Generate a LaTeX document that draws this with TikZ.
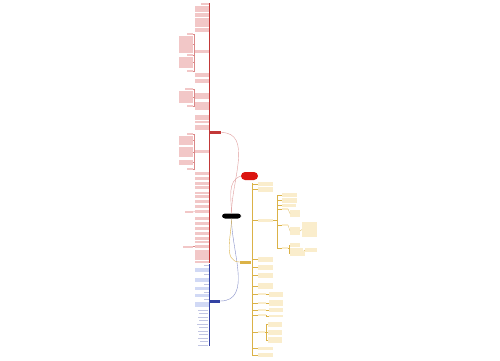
\documentclass[tikz,border=0pt]{standalone}
\usepackage{xcolor}
\usetikzlibrary{positioning}
\definecolor{RedLine}{rgb}{0.76 0.22 0.22}
\definecolor{RedFill}{rgb}{0.95 0.78 0.78}
\definecolor{RedHead}{rgb}{0.86 0.08 0.06}
\definecolor{BlueLine}{rgb}{0.2 0.26 0.64}
\definecolor{BlueFill}{rgb}{0.82 0.85 0.96}
\definecolor{YellowLine}{rgb}{0.86 0.7 0.28}
\definecolor{YellowFill}{rgb}{0.98 0.93 0.8}
\tikzset{
    rblk/.style={fill=RedFill,inner sep=0,outer sep=0,anchor=north east},
    bblk/.style={fill=BlueFill,inner sep=0,outer sep=0,anchor=north east},
    bline/.style={fill=BlueLine!30,inner sep=0,outer sep=0,anchor=north east},
    yblk/.style={fill=YellowFill,inner sep=0,outer sep=0,anchor=north west},
    rlink/.style={draw=RedLine!60,line width=0.3pt},
    ylink/.style={draw=YellowLine,line width=0.3pt}
}

\begin{document}
\begin{tikzpicture}[x=1pt,y=-1pt]
\tikzset{
    hub/.style={fill=black,rounded corners=3pt,minimum width=19pt,minimum height=5pt,inner sep=0},
    branch/.style={minimum width=11pt,minimum height=3pt,inner sep=0}
}
  \useasboundingbox[fill=white] (0,0) rectangle (500,360);

  % main nodes
  \node[hub] (centre) at (231.5,216) {};
  \node[fill=RedHead,rounded corners=4pt,minimum width=17pt,minimum height=8pt,inner sep=0] (top) at (249.5,176) {};
  \node[branch,fill=RedLine] (red) at (215.5,132.5) {};
  \node[branch,fill=BlueLine] (blue) at (214.5,301) {};
  \node[branch,fill=YellowLine] (yellow) at (245.5,262) {};

  \draw[RedLine!50,line width=0.4pt] (centre.north) to[out=90,in=200] (top.west);
  \draw[RedLine!50,line width=0.4pt] (centre.north) to[out=90,in=0] (red.east);
  \draw[BlueLine!60,line width=0.4pt] (centre.south) to[out=-90,in=0] (blue.east);
  \draw[YellowLine,line width=0.4pt] (centre.south) to[out=-90,in=180] (yellow.west);

  % trunks
  \coordinate (rtop) at (209,3);
  \coordinate (rbot) at (209,263);
  \coordinate (btop) at (209.5,264);
  \coordinate (bbot) at (209.5,346);
  \coordinate (ytop) at (252,183);
  \coordinate (ybot) at (252,355);
  \draw[RedLine,line width=1pt] (rtop) -- (rbot);
  \draw[BlueLine,line width=0.8pt] (btop) -- (bbot);
  \draw[YellowLine,line width=0.6pt] (ytop) -- (ybot);

  % red side
  \foreach \ya/\yb/\w [count=\i] in {3/5/8,6/12/14,13/17/14,18/27/14,27.5/32/14,50/53/14,
      73/77/14,79/83/14,93/99/14,102/110/14,115/120/14,120.5/123/14,125/130/14,150/153/14,
      172/175/14,177/180/14,182/185/14,186/189/14,192/194/14,195/198/14,200/203/14,
      205/208/14,210/213/14,217/220/14,222/225/14,227/230/14,232/235/14,237/240/14,
      240.5/243/14,245/248/14,250/260/14,261/263/14}
    \node[rblk,minimum width=\w,minimum height={(\yb-\ya)*1pt}] (r\i) at (208.5,\ya) {};

  \foreach \ya/\yb/\w [count=\i] in {33/35/6,36/53/14,54/56/6,57/68/14,70/72/6}{
    \node[rblk,minimum width=\w,minimum height={(\yb-\ya)*1pt}] (ra\i) at (193,\ya) {};
    \draw[rlink] (r6.west) -- ++(-0.6,0) |- (ra\i.east);
  }
  \foreach \ya/\yb/\w [count=\i] in {88/90/8,90.5/103/14,105/107/6}{
    \node[rblk,minimum width=\w,minimum height={(\yb-\ya)*1pt}] (rb\i) at (193,\ya) {};
    \draw[rlink] (r9.west) -- ++(-0.6,0) |- (rb\i.east);
  }
  \foreach \ya/\yb/\w [count=\i] in {133/135/6,135.5/145/14,147/157/14,160/165/14,168/170/6}{
    \node[rblk,minimum width=\w,minimum height={(\yb-\ya)*1pt}] (rc\i) at (193,\ya) {};
    \draw[rlink] (r14.west) -- ++(-0.6,0) |- (rc\i.east);
  }
  \node[rblk,minimum width=8,minimum height=2] (rd) at (193,211) {};
  \draw[rlink] (r23.west) -- (rd.east);
  \node[rblk,minimum width=10,minimum height=2] (re) at (193,245.5) {};
  \draw[rlink] (r30.west) -- (re.east);

  % blue side
  \foreach \ya/\yb/\w [count=\i] in {268/272/14,278/282/14,287/290/14,293.5/297/14,302/307/14}
    \node[bblk,minimum width=\w,minimum height={(\yb-\ya)*1pt}] (b\i) at (208.5,\ya) {};
  \foreach \ya in {264.5,273.5,283.5,291.5,298.5}
    \node[bline,minimum width=5,minimum height=1.4] at (208.5,\ya) {};
  \foreach \ya/\w in {309.5/10,313/9,316.5/10,320/9,323.5/11,327/9,330.5/10,334/9,337.5/10,341/8,344.5/10}
    \node[bline,minimum width=\w,minimum height=1.4] at (208,\ya) {};

  % yellow side
  \foreach \ya/\yb/\w [count=\i] in {182/186/15,187/192/15,219/222/15,257/262/15,265/270/15,
      273/278/15,283/289/15,293/295/8,302/304/8,309/311/8,314/316/8,331/333/7,347/350/15,353/357/15}{
    \node[yblk,minimum width=\w,minimum height={(\yb-\ya)*1pt}] (y\i) at (258,\ya) {};
    \draw[ylink] (y\i.west) -- (y\i.west -| ytop);
  }
  \foreach \ya/\yb/\p [count=\i] in {292/297/8,300/306/9,308/312/10,315/317/11}{
    \node[yblk,minimum width=14,minimum height={(\yb-\ya)*1pt}] (yc\i) at (269,\ya) {};
    \draw[ylink] (y\p.east) -- ++(0.6,0) |- (yc\i.west);
  }
  \foreach \ya/\yb [count=\i] in {322/327,330/335,337/343}{
    \node[yblk,minimum width=14,minimum height={(\yb-\ya)*1pt}] (yd\i) at (268,\ya) {};
    \draw[ylink] (y12.east) -- ++(1,0) |- (yd\i.west);
  }

  % yellow sub-branch
  \coordinate (yline) at (277,195);
  \foreach \ya/\yb/\w [count=\i] in {193/197/15,198/203/15,203.5/207/14,208/210/6,224/226/6,247/249/6}{
    \node[yblk,minimum width=\w,minimum height={(\yb-\ya)*1pt}] (ys\i) at (282,\ya) {};
    \draw[ylink] (y3.east) -- (y3.east -| yline) |- (ys\i.west);
  }
  \node[yblk,minimum width=10,minimum height=7] (yt1) at (290,210) {};
  \draw[ylink] (ys4.east) -- (yt1.west);
  \node[yblk,minimum width=10,minimum height=8] (yt2) at (290,227) {};
  \draw[ylink] (ys5.east) -- (yt2.west);
  \node[yblk,minimum width=15,minimum height=15] (yu1) at (302,222) {};
  \draw[ylink] (yt2.east) -- (yu1.west);
  \node[yblk,minimum width=10,minimum height=4] (yt3) at (290,243) {};
  \node[yblk,minimum width=13,minimum height=7] (yt4) at (290,248) {};
  \draw[ylink] (ys6.east) -- ++(1,0) |- (yt3.west);
  \draw[ylink] (ys6.east) -- ++(1,0) |- (yt4.west);
  \node[yblk,minimum width=12,minimum height=4] (yu2) at (305,248) {};
  \draw[ylink] (yt4.east) -- (yu2.west);
  \node[yblk,minimum width=15,minimum height=5] (yt5) at (290,250.5) {};
  \draw[ylink] (ys6.east) -- ++(1,0) |- (yt5.west);
\end{tikzpicture}
\end{document}
